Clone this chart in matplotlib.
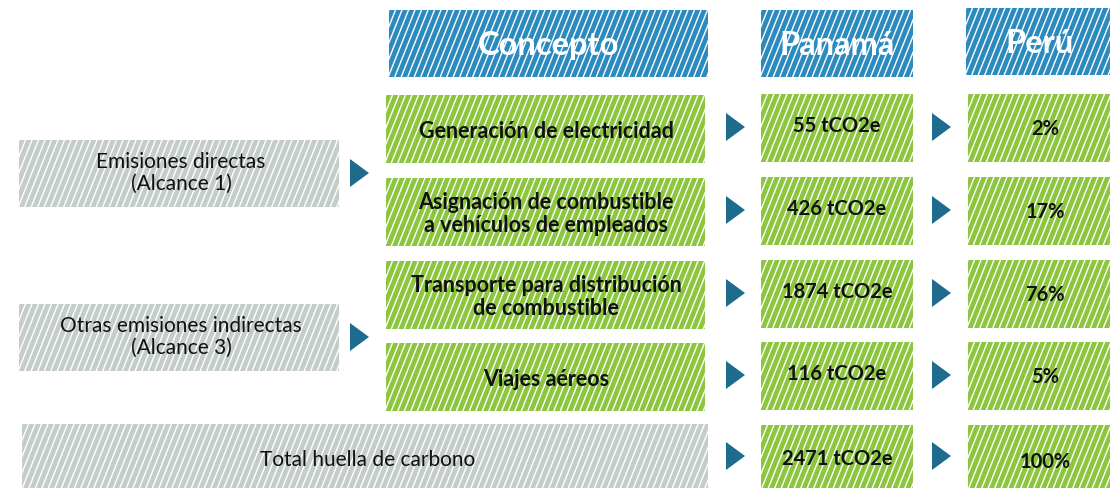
import matplotlib.pyplot as plt
from matplotlib.patches import Rectangle, Polygon
from matplotlib.collections import LineCollection

# ── Data ─────────────────────────────────────────────────────────────────────
headers = ['Concepto', 'Panamá', 'Perú']
scopes = ['Emisiones directas\n(Alcance 1)', 'Otras emisiones indirectas\n(Alcance 3)']
concepts = [
    'Generación de electricidad',
    'Asignación de combustible\na vehículos de empleados',
    'Transporte para distribución\nde combustible',
    'Viajes aéreos',
]
panama_tco2e = [55, 426, 1874, 116]
peru_pct = [2, 17, 76, 5]
total_label = 'Total huella de carbono'
total_tco2e = 2471
total_pct = 100

# ── Style ────────────────────────────────────────────────────────────────────
BLUE = '#2B8BBF'
GREEN = '#8CC63F'
GREY = '#C5CDCB'
ARROW = '#1E6B8E'
FONT = ['Lato', 'DejaVu Sans']

W, H = 1110, 489
fig = plt.figure(figsize=(W / 100, H / 100), dpi=100)
ax = fig.add_axes([0, 0, 1, 1])
ax.set_xlim(0, W)
ax.set_ylim(H, 0)
ax.axis('off')


def striped_box(x, y, w, h, color, spacing=6.5, slope=0.4):
    box = Rectangle((x, y), w, h, facecolor=color, edgecolor='none')
    ax.add_patch(box)
    segs = []
    x0 = x - h * slope - spacing
    while x0 < x + w + spacing:
        segs.append([(x0, y + h), (x0 + h * slope, y)])
        x0 += spacing
    lc = LineCollection(segs, colors='white', linewidths=1.0)
    ax.add_collection(lc)
    lc.set_clip_path(box)


def arrow(xl, yc, w=19, h=28):
    ax.add_patch(Polygon([(xl, yc - h / 2), (xl + w, yc), (xl, yc + h / 2)],
                         closed=True, facecolor=ARROW, edgecolor='none'))


def label(x, y, s, size=14, weight='bold', color='#111111', ls=1.15):
    ax.text(x, y, s, ha='center', va='center', fontsize=size, fontweight=weight,
            color=color, family=FONT, linespacing=ls)


# header row
head_boxes = [(389, 11, 319, 67), (761, 11, 152, 67), (966, 9, 160, 67)]
for (x, y, w, h), s in zip(head_boxes, headers):
    striped_box(x, y, w, h, BLUE)
    cx = x + w / 2 if x < 900 else 1040
    label(cx, y + h / 2 + 1, s, size=23.5, color='white')

# rows
row_tops = [96, 179, 262, 344]
row_h = 68
for top, c, v, p in zip(row_tops, concepts, panama_tco2e, peru_pct):
    striped_box(386, top, 319, row_h, GREEN)
    label(546, top + row_h / 2 + 1, c, size=15.5, ls=1.12)
    arrow(726, top + row_h / 2 - 2)
    striped_box(761, top - 1, 152, row_h, GREEN)
    label(837, top + row_h / 2 - 4, f'{v} tCO2e', size=14.5)
    arrow(932, top + row_h / 2 - 2)
    striped_box(968, top - 1, 160, row_h, GREEN)
    label(1045, top + row_h / 2 - 1, f'{p}%', size=14.5)

# scope boxes
scope_tops = [141, 305]
for top, s in zip(scope_tops, scopes):
    striped_box(19, top, 320, 67, GREY)
    label(181, top + 32, s, size=15, weight='normal')
    arrow(350, top + 33)

# total row
striped_box(22, 425, 686, 70, GREY)
label(368, 460, total_label, size=15, weight='normal')
arrow(726, 457)
striped_box(761, 426, 152, 70, GREEN)
label(837, 459, f'{total_tco2e} tCO2e', size=14.5)
arrow(932, 457)
striped_box(968, 426, 160, 70, GREEN)
label(1045, 462, f'{total_pct}%', size=14.5)

fig.savefig('out.png', dpi=100, facecolor='white')
